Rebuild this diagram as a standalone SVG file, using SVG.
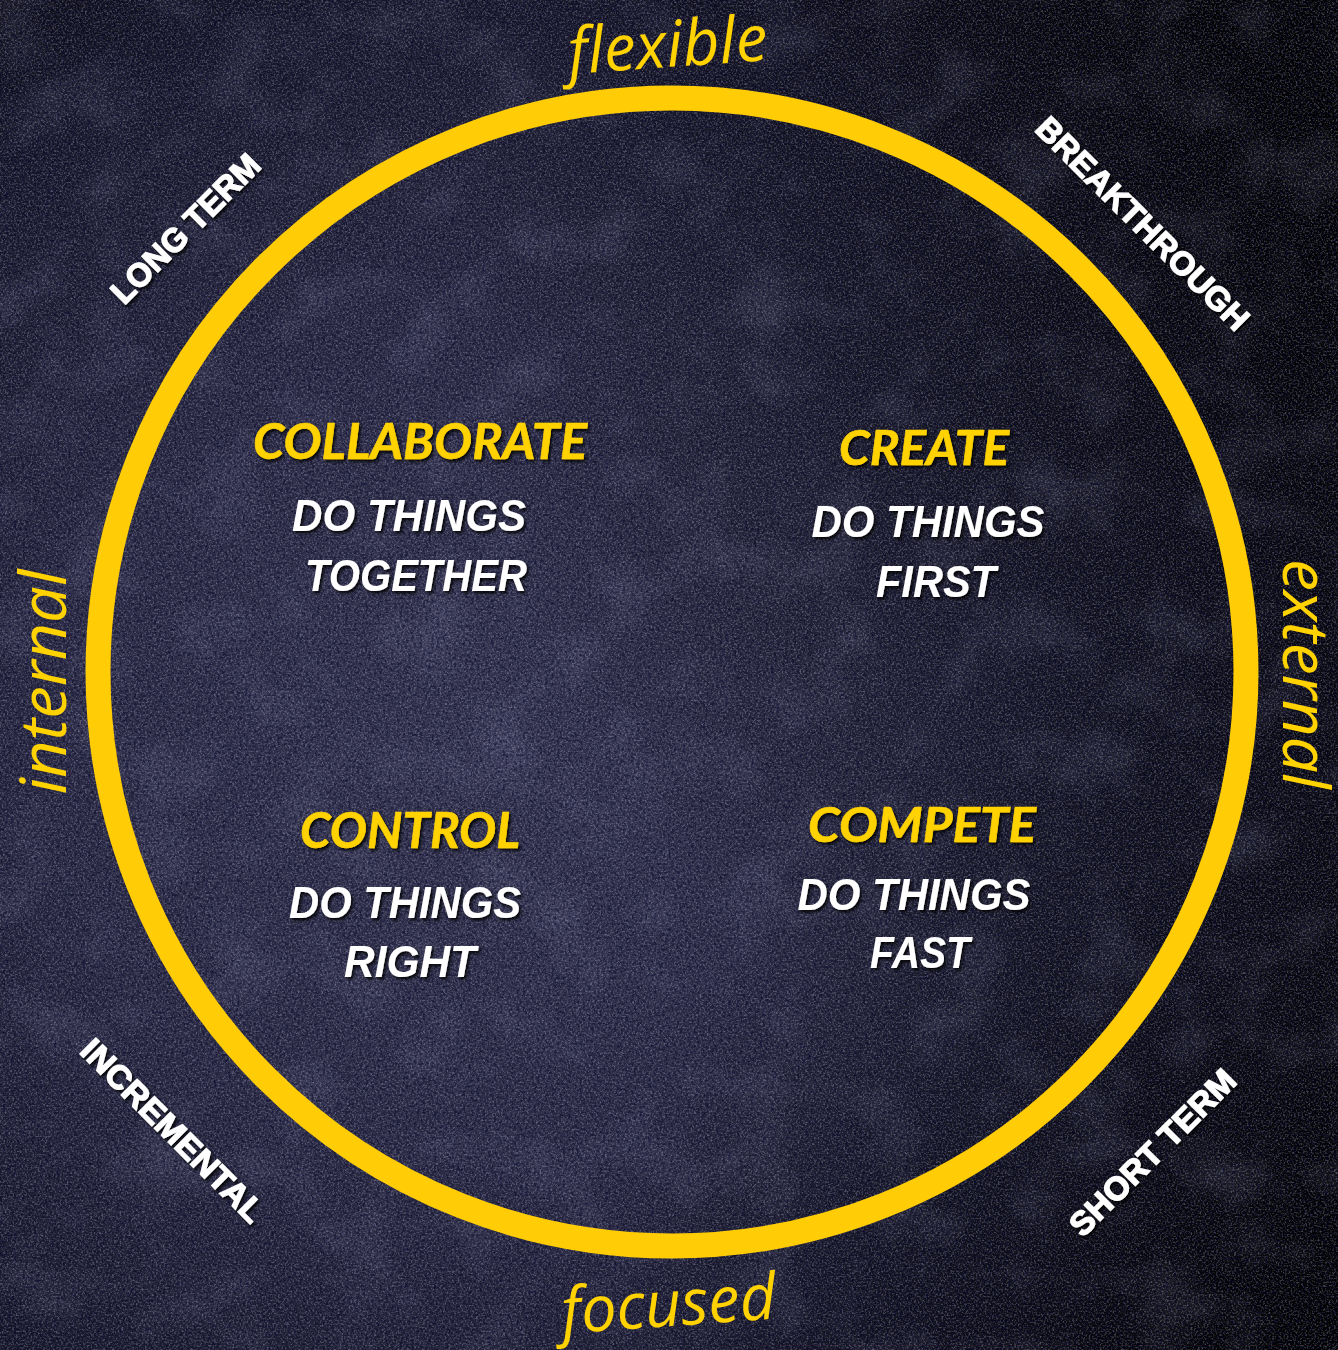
<svg xmlns="http://www.w3.org/2000/svg" width="1338" height="1350" viewBox="0 0 1338 1350">
  <defs>
    <radialGradient id="bgGrad" cx="0.36" cy="0.56" r="0.78">
      <stop offset="0" stop-color="#34344f"/>
      <stop offset="0.4" stop-color="#2a2a43"/>
      <stop offset="0.72" stop-color="#18182a"/>
      <stop offset="1" stop-color="#050507"/>
    </radialGradient>
    <radialGradient id="rightDark" cx="1.05" cy="0.2" r="0.7">
      <stop offset="0" stop-color="#000" stop-opacity="0.8"/>
      <stop offset="1" stop-color="#000" stop-opacity="0"/>
    </radialGradient>
    <radialGradient id="brDark" cx="1.0" cy="1.0" r="0.55">
      <stop offset="0" stop-color="#000" stop-opacity="0.8"/>
      <stop offset="1" stop-color="#000" stop-opacity="0"/>
    </radialGradient>
    <filter id="speck" x="0" y="0" width="100%" height="100%">
      <feTurbulence type="fractalNoise" baseFrequency="0.55" numOctaves="3" seed="7" result="n"/>
      <feColorMatrix in="n" type="matrix" values="0 0 0 0 0.6  0 0 0 0 0.6  0 0 0 0 0.85  3.4 0 0 0 -1.55"/>
    </filter>
    <filter id="dark" x="0" y="0" width="100%" height="100%">
      <feTurbulence type="fractalNoise" baseFrequency="0.35" numOctaves="3" seed="3" result="n"/>
      <feColorMatrix in="n" type="matrix" values="0 0 0 0 0  0 0 0 0 0  0 0 0 0 0.02  -3.4 0 0 0 1.85"/>
    </filter>
    <filter id="blotch" x="0" y="0" width="100%" height="100%">
      <feTurbulence type="fractalNoise" baseFrequency="0.015" numOctaves="4" seed="11" result="n"/>
      <feColorMatrix in="n" type="matrix" values="0 0 0 0 0.35  0 0 0 0 0.35  0 0 0 0 0.55  2.0 0 0 0 -0.95"/>
    </filter>
    <filter id="shadow" x="-10%" y="-20%" width="120%" height="140%">
      <feDropShadow dx="2" dy="2.5" stdDeviation="1.5" flood-color="#000" flood-opacity="0.85"/>
    </filter>
    <style>
      .title { font-family: Lato, "Open Sans", "Liberation Sans", sans-serif; font-weight: 700; font-style: italic; fill: #FFD200; stroke: #FFD200; stroke-width: 0.6px; text-anchor: middle; }
      .sub { font-family: "Liberation Sans", Arial, sans-serif; font-weight: 700; font-style: italic; fill: #FFFFFF; text-anchor: middle; font-size: 44px; }
      .diag { font-family: "Liberation Sans", Arial, sans-serif; font-weight: 700; fill: #FFFFFF; stroke: #FFFFFF; stroke-width: 1.2px; text-anchor: middle; font-size: 33px; }
      .axis { font-family: "Open Sans", "Noto Sans", sans-serif; font-weight: 400; font-style: italic; fill: #FFD200; text-anchor: middle; font-size: 64px; }
    </style>
  </defs>

  <g id="background">
    <rect width="1338" height="1350" fill="#101018"/>
    <rect width="1338" height="1350" fill="url(#bgGrad)"/>
    <rect width="1338" height="1350" fill="url(#rightDark)"/>
    <rect width="1338" height="1350" fill="url(#brDark)"/>
    <rect width="1338" height="1350" filter="url(#blotch)" opacity="0.18"/>
    <rect width="1338" height="1350" filter="url(#speck)" opacity="0.3"/>
    <rect width="1338" height="1350" filter="url(#dark)" opacity="0.45"/>
  </g>

  <g id="ring">
    <circle cx="672" cy="672" r="574" fill="none" stroke="#FFCC05" stroke-width="25"/>
  </g>

  <g id="connectors"></g>

  <g id="axis-flexible">
    <text class="axis" transform="translate(669,67) rotate(-4)" x="0" y="0" textLength="200" lengthAdjust="spacingAndGlyphs">flexible</text>
  </g>
  <g id="axis-focused">
    <text class="axis" transform="translate(670,1326) rotate(-4)" x="0" y="0" textLength="215" lengthAdjust="spacingAndGlyphs">focused</text>
  </g>
  <g id="axis-internal">
    <text class="axis" transform="translate(66,682) rotate(-90)" x="0" y="0" textLength="225" lengthAdjust="spacingAndGlyphs">internal</text>
  </g>
  <g id="axis-external">
    <text class="axis" transform="translate(1283,674) rotate(90)" x="0" y="0" textLength="230" lengthAdjust="spacingAndGlyphs">external</text>
  </g>

  <g id="label-long-term" filter="url(#shadow)">
    <text class="diag" transform="translate(185,228) rotate(-45)" x="0" y="12" textLength="196" lengthAdjust="spacingAndGlyphs">LONG TERM</text>
  </g>
  <g id="label-breakthrough" filter="url(#shadow)">
    <text class="diag" transform="translate(1143,223) rotate(45)" x="0" y="12" textLength="286" lengthAdjust="spacingAndGlyphs">BREAKTHROUGH</text>
  </g>
  <g id="label-incremental" filter="url(#shadow)">
    <text class="diag" transform="translate(173,1130) rotate(45)" x="0" y="12" textLength="244" lengthAdjust="spacingAndGlyphs">INCREMENTAL</text>
  </g>
  <g id="label-short-term" filter="url(#shadow)">
    <text class="diag" transform="translate(1152,1152) rotate(-45)" x="0" y="12" textLength="220" lengthAdjust="spacingAndGlyphs">SHORT TERM</text>
  </g>

  <g id="node-collaborate" filter="url(#shadow)">
    <text class="title" x="420" y="459" font-size="50" textLength="334" lengthAdjust="spacingAndGlyphs">COLLABORATE</text>
    <text class="sub" x="409" y="531" textLength="234" lengthAdjust="spacingAndGlyphs">DO THINGS</text>
    <text class="sub" x="416" y="591" textLength="222" lengthAdjust="spacingAndGlyphs">TOGETHER</text>
  </g>
  <g id="node-create" filter="url(#shadow)">
    <text class="title" x="924" y="465" font-size="48" textLength="170" lengthAdjust="spacingAndGlyphs">CREATE</text>
    <text class="sub" x="928" y="537" textLength="233" lengthAdjust="spacingAndGlyphs">DO THINGS</text>
    <text class="sub" x="936" y="597" textLength="120" lengthAdjust="spacingAndGlyphs">FIRST</text>
  </g>
  <g id="node-control" filter="url(#shadow)">
    <text class="title" x="410" y="848" font-size="49" textLength="220" lengthAdjust="spacingAndGlyphs">CONTROL</text>
    <text class="sub" x="405" y="918" textLength="232" lengthAdjust="spacingAndGlyphs">DO THINGS</text>
    <text class="sub" x="410" y="977" textLength="132" lengthAdjust="spacingAndGlyphs">RIGHT</text>
  </g>
  <g id="node-compete" filter="url(#shadow)">
    <text class="title" x="922" y="842" font-size="48" textLength="228" lengthAdjust="spacingAndGlyphs">COMPETE</text>
    <text class="sub" x="914" y="910" textLength="233" lengthAdjust="spacingAndGlyphs">DO THINGS</text>
    <text class="sub" x="920" y="968" textLength="100" lengthAdjust="spacingAndGlyphs">FAST</text>
  </g>
</svg>
